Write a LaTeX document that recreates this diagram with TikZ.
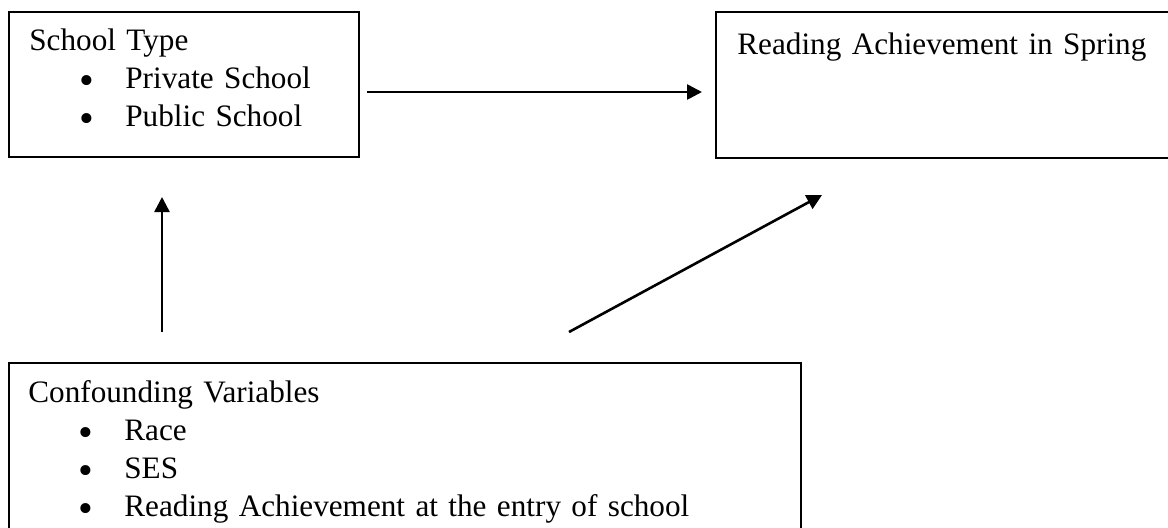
\documentclass[tikz,border=0pt]{standalone}
\usepackage{fontspec}
\usepackage{graphicx}
\setmainfont{Liberation Serif}
\usetikzlibrary{arrows.meta}

\newcommand{\bulitem}[1]{\hspace*{25pt}\makebox[23pt][l]{\raisebox{-3pt}{\scalebox{1.35}{\textbullet}}}#1}

\begin{document}
\begin{tikzpicture}[x=0.5pt, y=-0.5pt, >={Triangle[length=7.5pt,width=7.5pt]},
	box/.style={draw, line width=1.1pt, rectangle, anchor=north west, inner sep=0pt},
	boxtext/.style={anchor=base west, align=left, inner sep=0pt, text width=#1,
		font=\fontsize{15.6}{19}\selectfont},
	link/.style={->, line width=1.3pt}]
	\useasboundingbox (0,0) rectangle (1168,527);
	
	% Boxes
	\node[box, minimum width=175pt, minimum height=72.5pt] (type) at (8,11) {};
	\node[box, minimum width=232.5pt, minimum height=73pt] (spring) at (715,11) {};
	\node[box, minimum width=396pt, minimum height=89pt] (conf) at (8,362) {};
	
	% Texts
	\node[boxtext=170pt] (typetext) at (29,50)
		{School Type\\\bulitem{Private School}\\\bulitem{Public School}};
	\node[boxtext=220pt] (springtext) at (737,54) {Reading Achievement in Spring};
	\node[boxtext=380pt] (conftext) at (28,402)
		{Confounding Variables\\\bulitem{Race}\\\bulitem{SES}\\
		\bulitem{Reading Achievement at the entry of school}};
	
	% Arrow ends
	\coordinate (typeout) at (367,92);
	\coordinate (springin) at (702,92);
	\coordinate (confup) at (162,332);
	\coordinate (typein) at (162,197);
	\coordinate (confright) at (569,332);
	\coordinate (springlow) at (822,195);
	
	% Arrows
	\draw[link] (typeout) -- (springin);
	\draw[link] (confup) -- (typein);
	\draw[link] (confright) -- (springlow);
	
\end{tikzpicture}
\end{document}
